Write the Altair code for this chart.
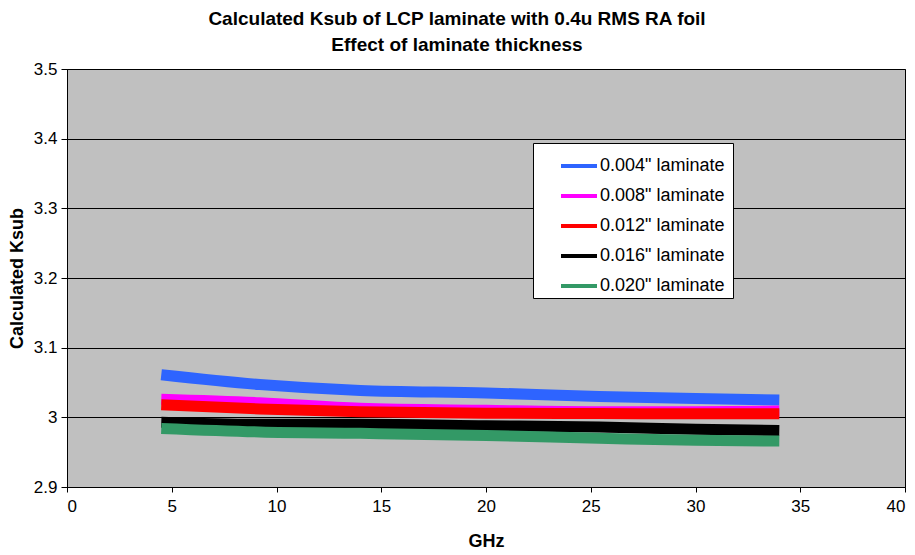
import altair as alt
import pandas as pd

series = ['0.004"  laminate', '0.008" laminate', '0.012" laminate', '0.016" laminate', '0.020" laminate']
colors = ["#2E64FF", "#FF00FF", "#FF0000", "#000000", "#339966"]
ghz = [4.5, 9.2, 14, 20, 25.4, 30, 34]
k004 = [3.061, 3.047, 3.0385, 3.035, 3.030, 3.027, 3.025]
k008 = [3.026, 3.021, 3.013, 3.010, 3.008, 3.008, 3.009]
k012 = [3.018, 3.012, 3.008, 3.006, 3.0055, 3.005, 3.005]
k016 = [2.993, 2.990, 2.990, 2.988, 2.986, 2.983, 2.981]
k020 = [2.984, 2.979, 2.977, 2.974, 2.970, 2.967, 2.966]

rows = []
for name, vals in zip(series, [k004, k008, k012, k016, k020]):
    for g, v in zip(ghz, vals):
        rows.append({"series": name, "GHz": g, "Ksub": v})
df = pd.DataFrame(rows)

FONT = "Liberation Sans"

x = alt.X("GHz:Q", title="GHz",
          scale=alt.Scale(domain=[0, 40], nice=False, zero=False),
          axis=alt.Axis(values=[0, 5, 10, 15, 20, 25, 30, 35, 40], grid=False,
                        tickSize=5, labelPadding=6, titlePadding=18,
                        labelFontSize=17, titleFontSize=18, titleFontWeight="bold",
                        domainColor="black", tickColor="black", labelColor="black",
                        titleColor="black", labelFont=FONT, titleFont=FONT))
y = alt.Y("Ksub:Q", title="Calculated Ksub",
          scale=alt.Scale(domain=[2.9, 3.5], nice=False, zero=False),
          axis=alt.Axis(values=[2.9, 3.0, 3.1, 3.2, 3.3, 3.4, 3.5], format=".1~f",
                        grid=True, gridColor="black", gridWidth=1,
                        tickSize=6, labelPadding=4, titlePadding=7,
                        labelFontSize=17, titleFontSize=18, titleFontWeight="bold",
                        domainColor="black", tickColor="black", labelColor="black",
                        titleColor="black", labelFont=FONT, titleFont=FONT))

color = alt.Color("series:N", sort=series,
                  scale=alt.Scale(domain=series, range=colors),
                  legend=alt.Legend(title=None, orient="none", legendX=466, legendY=74,
                                    fillColor="white", strokeColor="black",
                                    padding=3, rowPadding=1, symbolType="stroke",
                                    symbolSize=1296, symbolStrokeWidth=4,
                                    symbolOffset=23, labelOffset=1,
                                    labelExpr="datum.label + '\u00a0\u00a0\u00a0\u00a0\u00a0'",
                                    labelFontSize=18, labelFont=FONT, labelColor="black",
                                    labelLimit=300))

lines = alt.Chart(df).mark_line(strokeWidth=11, interpolate="monotone", strokeCap="butt").encode(
    x=x, y=y, color=color, order="GHz:Q")

chart = lines.properties(
    width=838, height=418,
    autosize="none",
    padding={"left": 59, "top": 61, "right": 2, "bottom": 70},
    title=alt.TitleParams(
        text=["Calculated Ksub of LCP laminate with 0.4u RMS RA foil", "Effect of laminate thickness"],
        font=FONT, fontSize=19, fontWeight="bold", color="black",
        anchor="middle", dx=-29, offset=5, lineHeight=26),
).configure_view(fill="#C0C0C0", stroke="black", strokeWidth=1)

chart.save("out.html", embed_options={"renderer": "svg", "actions": False})
